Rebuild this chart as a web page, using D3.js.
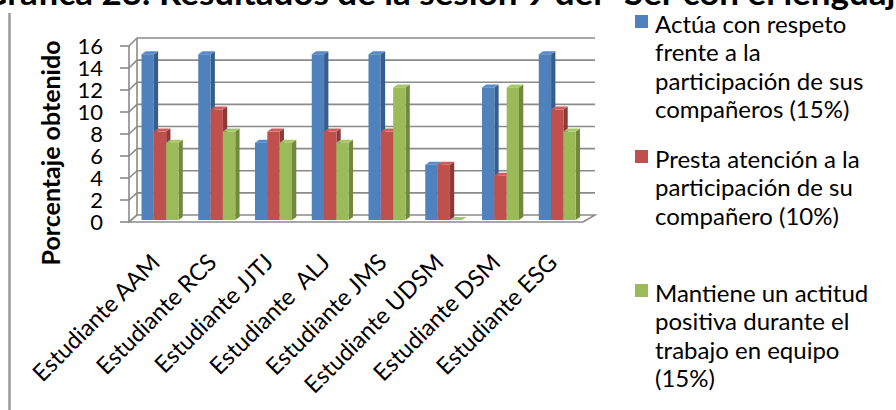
<!DOCTYPE html>
<html><head><meta charset="utf-8">
<script src="https://cdn.jsdelivr.net/npm/d3@7"></script>
<style>
html,body{margin:0;padding:0;background:#fff;}
svg{display:block;}
text{font-family:Lato,"Noto Sans",sans-serif;fill:#000;}
</style></head>
<body>
<svg id="chart" width="896" height="410"></svg>
<script>
const titleText = "Gráfica 23. Resultados de la sesión 9 del “Ser con el lenguaje”";
const yTitle = "Porcentaje obtenido";
const categories = ["Estudiante AAM","Estudiante RCS","Estudiante JJTJ","Estudiante  ALJ","Estudiante JMS","Estudiante UDSM","Estudiante DSM","Estudiante ESG"];
const seriesNames = ["respeto","atencion","actitud"];
const respeto  = [15,15,7,15,15,5,12,15];
const atencion = [8,10,8,8,8,5,4,10];
const actitud  = [7,8,7,7,12,0,12,8];
const yTicks = [0,2,4,6,8,10,12,14,16];
const legendLines = [
  ["Actúa con respeto","frente a la","participación de sus","compañeros (15%)"],
  ["Presta atención a la","participación de su","compañero (10%)"],
  ["Mantiene un actitud","positiva durante el","trabajo en equipo","(15%)"]
];
const colors = {
  respeto:  {front:"#4F81BD", side:"#385D8A", top:"#5A8BC8"},
  atencion: {front:"#C0504D", side:"#8C3A38", top:"#CC5D5A"},
  actitud:  {front:"#9BBB59", side:"#71893F", top:"#A7C868"}
};
const seriesData = {respeto, atencion, actitud};

const svg = d3.select("#chart");

// Title (clipped at top as in reference)
svg.append("text").attr("x", -18).attr("y", 5)
  .attr("textLength", 945).attr("lengthAdjust","spacingAndGlyphs")
  .style("font-size","33px").style("font-weight","bold")
  .text(titleText);

// left frame line
svg.append("line").attr("x1",9.5).attr("x2",9.5).attr("y1",13).attr("y2",410)
  .attr("stroke","#9a9a9a").attr("stroke-width",2.5);

// scales
const yFront = d3.scaleLinear().domain([0,16]).range([222,46]);
const yBack  = d3.scaleLinear().domain([0,16]).range([215,38]);
const yBar   = d3.scaleLinear().domain([0,16]).range([220,43.2]);
const xFront = d3.scaleBand().domain(categories).range([129,583]);
const xBack  = d3.scaleLinear().domain([129,583]).range([137,595]);
const xSub = d3.scaleBand().domain(seriesNames).range([0,37]);
const barShift = 12.5; // offset of first bar inside a band
const dX = 4.3, dY = 3;

const grid = svg.append("g").attr("stroke","#8a8a8a").attr("stroke-width",1.6).attr("fill","none");
// floor
grid.append("path").attr("fill","#fff")
  .attr("d", `M${xFront.range()[0]},${yFront(0)}L${xFront.range()[1]},${yFront(0)}L${xBack(xFront.range()[1])},${yBack(0)}L${xBack(xFront.range()[0])},${yBack(0)}Z`);
yTicks.forEach(v=>{
  if (v>0) grid.append("line").attr("x1",xBack(129)).attr("x2",xBack(583)).attr("y1",yBack(v)).attr("y2",yBack(v));
  grid.append("line").attr("x1",120).attr("x2",129).attr("y1",yFront(v)).attr("y2",yFront(v));
  grid.append("line").attr("x1",129).attr("x2",xBack(129)).attr("y1",yFront(v)).attr("y2",yBack(v));
});
grid.append("line").attr("x1",129).attr("x2",129).attr("y1",yFront(0)).attr("y2",yFront(16));
grid.append("line").attr("x1",xBack(129)).attr("x2",xBack(129)).attr("y1",yBack(0)).attr("y2",yBack(16));

// y tick labels
svg.append("g").selectAll("text").data(yTicks).join("text")
  .attr("x",103).attr("y",d=>yFront(d)+8)
  .attr("text-anchor","end").style("font-size","22px")
  .text(d=>d);

// y title
svg.append("text").attr("transform",`translate(60,153) rotate(-90)`)
  .attr("text-anchor","middle").style("font-size","25px").style("font-weight","bold")
  .text(yTitle);

// bars
const bars = svg.append("g");
categories.forEach((c,i)=>{
  seriesNames.forEach(s=>{
    const v = seriesData[s][i];
    const x0 = xFront(c) + barShift + xSub(s);
    const x1 = x0 + xSub.bandwidth();
    const yt = yBar(v), yb = yBar(0);
    const col = colors[s];
    const g = bars.append("g");
    g.append("path").attr("fill",col.side)
      .attr("d",`M${x1},${yt}L${x1+dX},${yt-dY}L${x1+dX},${yb-dY}L${x1},${yb}Z`);
    g.append("path").attr("fill",col.top)
      .attr("d",`M${x0},${yt}L${x0+dX},${yt-dY}L${x1+dX},${yt-dY}L${x1},${yt}Z`);
    g.append("rect").attr("x",x0).attr("y",yt).attr("width",xSub.bandwidth()).attr("height",yb-yt)
      .attr("fill",col.front);
  });
});

// x labels
svg.append("g").selectAll("text").data(categories).join("text")
  .attr("transform",d=>`translate(${xFront(d)+xFront.bandwidth()/2+4},${264}) rotate(-45)`)
  .attr("text-anchor","end").style("font-size","23.5px").style("white-space","pre")
  .text(d=>d);

// legend
const legendStarts = [33,168,302];
const lg = svg.append("g");
legendLines.forEach((lines,k)=>{
  const s = seriesNames[k];
  lg.append("rect").attr("x",635).attr("y",legendStarts[k]-18).attr("width",13).attr("height",13)
    .attr("fill",colors[s].front);
  lines.forEach((t,j)=>{
    lg.append("text").attr("x",655).attr("y",legendStarts[k]+28.3*j)
      .style("font-size","24px").text(t);
  });
});
</script>
</body></html>
